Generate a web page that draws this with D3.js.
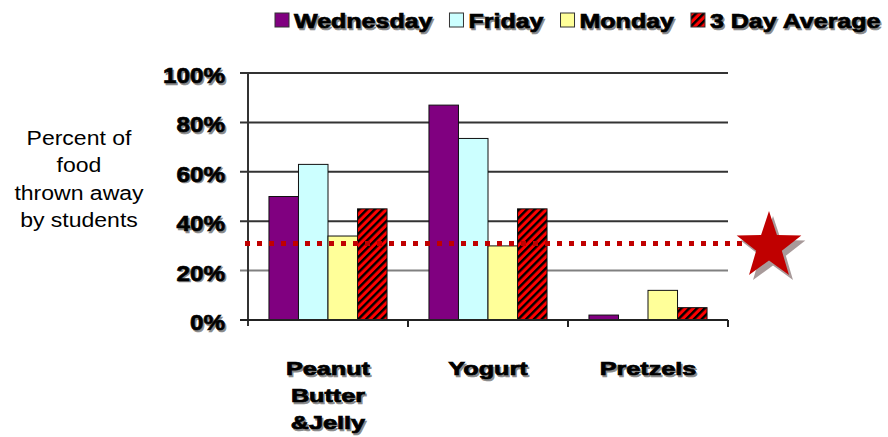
<!DOCTYPE html>
<html>
<head>
<meta charset="utf-8">
<script src="https://cdn.jsdelivr.net/npm/d3@7"></script>
<style>
  body { margin: 0; background: #fff; }
  svg { display: block; }
</style>
</head>
<body>
<svg></svg>
<script>
var categories = ["Peanut Butter &Jelly", "Yogurt", "Pretzels"];
var catLines = [["Peanut", "Butter", "&Jelly"], ["Yogurt"], ["Pretzels"]];
var series = ["Wednesday", "Friday", "Monday", "3 Day Average"];
var wednesday = [0.50, 0.87, 0.02];
var friday = [0.63, 0.735, 0];
var monday = [0.34, 0.30, 0.12];
var average = [0.45, 0.45, 0.05];
var threshold = 0.31;
var yTicks = [0, 0.2, 0.4, 0.6, 0.8, 1];
var yTitle = ["Percent of", "food", "thrown away", "by students"];

var values = [wednesday, friday, monday, average];
var colors = ["#800080", "#ccffff", "#ffff99", "url(#hatch)"];

var w = 888, h = 437;
var svg = d3.select("svg").attr("width", w).attr("height", h);

var defs = svg.append("defs");
var pat = defs.append("pattern")
  .attr("id", "hatch")
  .attr("patternUnits", "userSpaceOnUse")
  .attr("width", 5.5).attr("height", 5.5)
  .attr("patternTransform", "rotate(45)");
pat.append("rect").attr("width", 5.5).attr("height", 5.5).attr("fill", "#ff0000");
pat.append("rect").attr("width", 2.4).attr("height", 5.5).attr("fill", "#000");

var x0 = d3.scaleBand().domain(categories).range([248, 728]);
var x1 = d3.scaleBand().domain(series).range([0, x0.bandwidth()]).paddingOuter(0.71);
var y = d3.scaleLinear().domain([0, 1]).range([320, 73]);

// stretch text horizontally to mimic the wide heavy font
function stretch(sel, k) {
  sel.each(function() {
    var len = this.getComputedTextLength();
    d3.select(this).attr("textLength", len * k).attr("lengthAdjust", "spacingAndGlyphs");
  });
}
function shadowText(g, x, yy, txt, size, anchor, k) {
  g.append("text").attr("x", x + 1.5).attr("y", yy + 1.5).text(txt)
    .attr("fill", "#8a8a8a").attr("stroke", "#8a8a8a").attr("stroke-width", 0.7)
    .attr("font-size", size).attr("font-weight", "bold")
    .attr("font-family", "Liberation Sans, Arial, sans-serif")
    .attr("text-anchor", anchor).call(stretch, k);
  return g.append("text").attr("x", x).attr("y", yy).text(txt)
    .attr("fill", "#000").attr("stroke", "#000").attr("stroke-width", 0.7)
    .attr("font-size", size).attr("font-weight", "bold")
    .attr("font-family", "Liberation Sans, Arial, sans-serif")
    .attr("text-anchor", anchor).call(stretch, k);
}

// gridlines
svg.append("g").selectAll("line")
  .data(yTicks)
  .enter().append("line")
  .attr("x1", 240).attr("x2", x0.range()[1])
  .attr("y1", function(d) { return y(d); })
  .attr("y2", function(d) { return y(d); })
  .attr("stroke", function(d) { return d == 0.2 ? "#808080" : "#333"; })
  .attr("stroke-width", 2);

// y tick labels
var yl = svg.append("g");
yTicks.forEach(function(t) {
  shadowText(yl, 225, y(t) + 10, d3.format(".0%")(t), 22, "end", 1.1);
});

// bars
var groups = svg.append("g").selectAll("g")
  .data(categories)
  .enter().append("g")
  .attr("transform", function(d) { return "translate(" + x0(d) + ",0)"; });

groups.selectAll("rect")
  .data(function(d, i) { return series.map(function(s, j) { return {s: s, j: j, v: values[j][i]}; }); })
  .enter().append("rect")
  .filter(function(d) { return d.v > 0; })
  .attr("x", function(d) { return x1(d.s); })
  .attr("y", function(d) { return y(d.v); })
  .attr("width", x1.bandwidth())
  .attr("height", function(d) { return y(0) - y(d.v); })
  .attr("fill", function(d) { return colors[d.j]; })
  .attr("stroke", "#111")
  .attr("stroke-width", 1);

// axes
svg.append("line")
  .attr("x1", 248).attr("x2", 248).attr("y1", y(1)).attr("y2", y(0) + 6)
  .attr("stroke", "#333").attr("stroke-width", 2);
svg.append("line")
  .attr("x1", 240).attr("x2", x0.range()[1]).attr("y1", y(0)).attr("y2", y(0))
  .attr("stroke", "#222").attr("stroke-width", 2);
svg.append("g").selectAll("line")
  .data(categories)
  .enter().append("line")
  .attr("x1", function(d) { return x0(d) + x0.bandwidth(); })
  .attr("x2", function(d) { return x0(d) + x0.bandwidth(); })
  .attr("y1", y(0)).attr("y2", y(0) + 7)
  .attr("stroke", "#222").attr("stroke-width", 2);

// threshold line
svg.append("line")
  .attr("x1", 245).attr("x2", 745)
  .attr("y1", y(threshold)).attr("y2", y(threshold))
  .attr("stroke", "#c00000").attr("stroke-width", 5)
  .attr("stroke-dasharray", "5,7");

// star
function starPoints(cx, cy, R, r) {
  var pts = [];
  for (var i = 0; i < 10; i++) {
    var a = -Math.PI / 2 + i * Math.PI / 5;
    var rad = i % 2 == 0 ? R : r;
    pts.push([cx + rad * Math.cos(a), cy + rad * Math.sin(a) * 1.04]);
  }
  return pts.join(" ");
}
var scx = x0.range()[1] + 41, scy = y(threshold) + 3;
svg.append("polygon").attr("points", starPoints(scx + 4, scy + 5, 34, 13.5)).attr("fill", "#a89a9a");
svg.append("polygon").attr("points", starPoints(scx, scy, 34, 13.5)).attr("fill", "#c00000");

// category labels
var cl = svg.append("g");
categories.forEach(function(c, i) {
  var cx = x0(c) + x0.bandwidth() / 2;
  catLines[i].forEach(function(line, k) {
    shadowText(cl, cx, 375 + k * 27, line, 18, "middle", 1.4);
  });
});

// y title
svg.append("g").selectAll("text")
  .data(yTitle)
  .enter().append("text")
  .attr("x", 79)
  .attr("y", function(d, i) { return 145 + i * 27.3; })
  .attr("text-anchor", "middle")
  .attr("font-family", "Liberation Sans, Arial, sans-serif")
  .attr("font-size", 20)
  .attr("fill", "#000")
  .text(function(d) { return d; })
  .call(stretch, 1.15);

// legend
var lg = svg.append("g");
var lx = 275;
series.forEach(function(s, j) {
  lg.append("rect")
    .attr("x", lx).attr("y", 13).attr("width", 14).attr("height", 14)
    .attr("fill", colors[j]).attr("stroke", "#333").attr("stroke-width", 1);
  var t = shadowText(lg, lx + 19, 28, s, 20, "start", 1.25);
  lx += 19 + (+t.attr("textLength")) + 17;
});
</script>
</body>
</html>
